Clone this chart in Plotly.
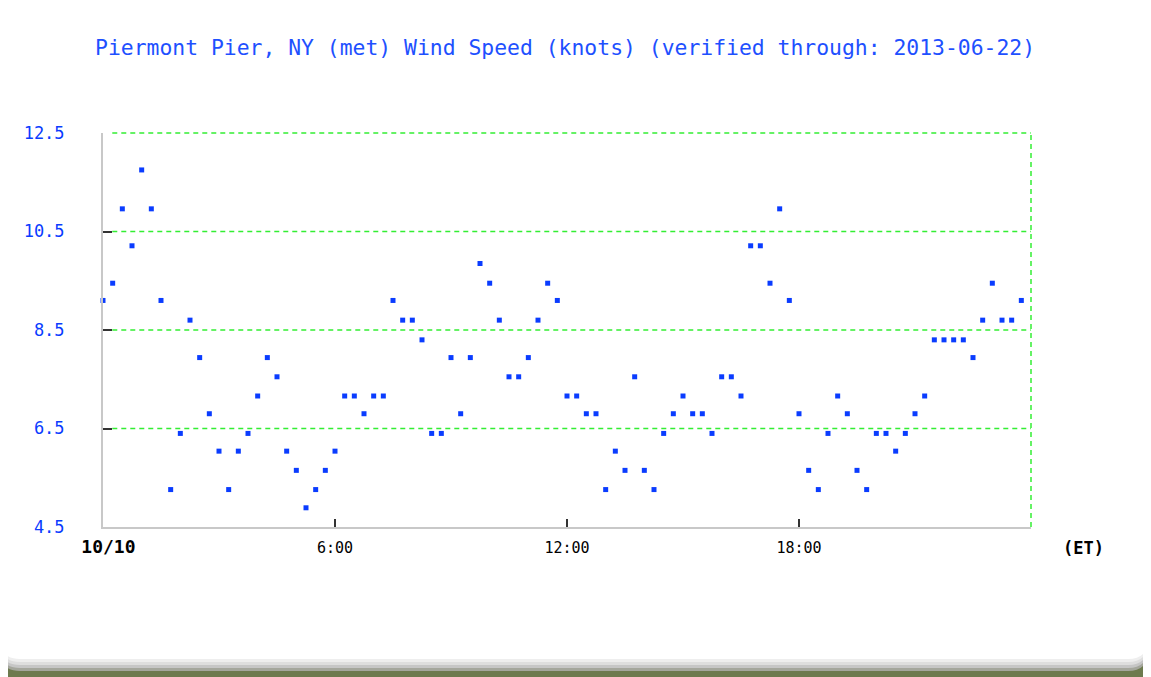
import plotly.graph_objects as go
import numpy as np

# reference canvas and the plot box inside it (pixels)
W, H = 1151, 677
OFF = 8  # page body margin
PLOT_L, PLOT_R, PLOT_T, PLOT_B = 103, 1031, 133, 527

TITLE = "Piermont Pier, NY (met) Wind Speed (knots) (verified through: 2013-06-22)"

# 15-minute observations on 10/10, hours since midnight
HOURS = np.arange(96) * 0.25
WIND_KT = [
    9.10, 9.45, 10.96, 10.21, 11.75, 10.96, 9.10, 5.26, 6.40, 8.70, 7.94, 6.80,
    6.04, 5.26, 6.04, 6.40, 7.16, 7.94, 7.55, 6.04, 5.65, 4.89, 5.26, 5.65,
    6.04, 7.16, 7.16, 6.80, 7.16, 7.16, 9.10, 8.70, 8.70, 8.30, 6.40, 6.40,
    7.94, 6.80, 7.94, 9.85, 9.45, 8.70, 7.55, 7.55, 7.94, 8.70, 9.45, 9.10,
    7.16, 7.16, 6.80, 6.80, 5.26, 6.04, 5.65, 7.55, 5.65, 5.26, 6.40, 6.80,
    7.16, 6.80, 6.80, 6.40, 7.55, 7.55, 7.16, 10.21, 10.21, 9.45, 10.96, 9.10,
    6.80, 5.65, 5.26, 6.40, 7.16, 6.80, 5.65, 5.26, 6.40, 6.40, 6.04, 6.40,
    6.80, 7.16, 8.30, 8.30, 8.30, 8.30, 7.94, 8.70, 9.45, 8.70, 8.70, 9.10,
]

Y_RANGE = [4.5, 12.5]
Y_TICKS = [4.5, 6.5, 8.5, 10.5, 12.5]
Y_LABELS = ["4.5", "6.5", "8.5", "10.5", "12.5"]
X_RANGE = [0, 24]
X_TICKS = [0, 6, 12, 18]
X_LABELS = ["<b><span style='font-size:18px'>&nbsp;10/10</span></b>", "6:00", "12:00", "18:00"]

BLUE = "#0a3cff"
TITLE_BLUE = "#1e50ff"
GREEN = "#33ee33"
OLIVE = "#6d7a4e"


def px(x):
    return (x - PLOT_L) / (PLOT_R - PLOT_L)


def py(y):
    return (PLOT_B - y) / (PLOT_B - PLOT_T)


def rounded_bottom(x0, x1, y0, y1, r):
    return (f"M {px(x0)},{py(y0)} L {px(x1)},{py(y0)} "
            f"L {px(x1)},{py(y1 - r)} Q {px(x1)},{py(y1)} {px(x1 - r)},{py(y1)} "
            f"L {px(x0 + r)},{py(y1)} Q {px(x0)},{py(y1)} {px(x0)},{py(y1 - r)} Z")


fig = go.Figure()
fig.add_trace(go.Scatter(
    x=HOURS, y=WIND_KT, mode="markers",
    marker=dict(symbol="square", size=5, color=BLUE, line=dict(width=0)),
    showlegend=False, cliponaxis=False,
))

# olive strip + soft shadow under the rounded white panel
shapes = [
    dict(type="rect", xref="paper", yref="paper", layer="below",
         x0=px(0), x1=px(W + 20), y0=py(630), y1=py(H + 20), fillcolor=OLIVE, line_width=0),
]
for bottom, col in [(671, "#a4a69c"), (668, "#c6c6c6"), (665, "#dedede"),
                    (662, "#eeeeee"), (659, "#ffffff")]:
    shapes.append(dict(type="path", xref="paper", yref="paper", layer="below",
                       path=rounded_bottom(0, W - 3, 0, bottom, 20),
                       fillcolor=col, line_width=0))

# dashed green grid and right border
for v in Y_TICKS[1:]:
    yp = (v - Y_RANGE[0]) / (Y_RANGE[1] - Y_RANGE[0])
    shapes.append(dict(type="line", xref="paper", yref="paper", x0=0.01, x1=1, y0=yp, y1=yp,
                       line=dict(color=GREEN, width=1.5, dash="5px,4px")))
shapes.append(dict(type="line", xref="paper", yref="paper", x0=1, x1=1, y0=0, y1=1,
                   line=dict(color=GREEN, width=1.5, dash="5px,4px")))

fig.update_layout(
    width=W - OFF, height=H - OFF,
    margin=dict(l=PLOT_L - OFF, r=W - PLOT_R, t=PLOT_T - OFF, b=H - PLOT_B),
    paper_bgcolor="white", plot_bgcolor="rgba(0,0,0,0)",
    font=dict(family="DejaVu Sans Mono", color="black"),
    shapes=shapes,
    annotations=[
        dict(text=TITLE, xref="paper", yref="paper", x=px(565), y=py(48),
             xanchor="center", yanchor="middle",
             showarrow=False, font=dict(size=21.4, color=TITLE_BLUE)),
        dict(text="<b>(ET)</b>", xref="paper", yref="paper", x=px(1083), y=py(548),
             xanchor="center", yanchor="middle",
             showarrow=False, font=dict(size=17, color="black")),
    ],
)
fig.update_xaxes(
    range=X_RANGE, tickvals=X_TICKS, ticktext=X_LABELS, showgrid=False, zeroline=False,
    showline=True, linecolor="#c8c8c8", linewidth=2,
    ticks="inside", ticklen=8, tickcolor="#333333", tickwidth=1.5,
    tickfont=dict(size=15, color="black"), ticklabelstandoff=6,
)
fig.update_yaxes(
    range=Y_RANGE, tickvals=Y_TICKS, ticktext=Y_LABELS, showgrid=False, zeroline=False,
    showline=True, linecolor="#c8c8c8", linewidth=2,
    ticks="inside", ticklen=9, tickcolor="#333333", tickwidth=2,
    tickfont=dict(size=17, color=BLUE), ticklabelstandoff=33,
)

fig.write_html("out.html")
